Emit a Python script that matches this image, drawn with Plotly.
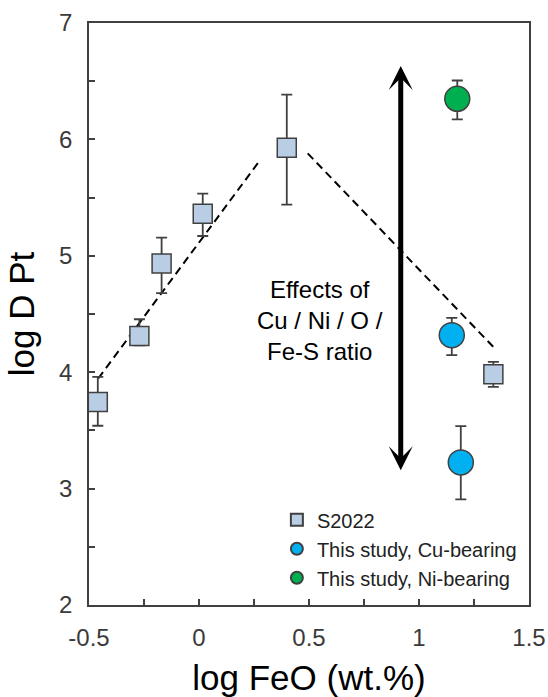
import plotly.graph_objects as go

# S2022 data
s_x = [-0.46, -0.271, -0.17, 0.017, 0.399, 1.338]
s_y = [3.745, 4.31, 4.933, 5.362, 5.929, 3.983]
s_err_plus = [0.215, 0.145, 0.223, 0.172, 0.455, 0.105]
s_err_minus = [0.205, 0.08, 0.253, 0.192, 0.489, 0.109]

# This study, Cu-bearing
cu_x = [1.149, 1.19]
cu_y = [4.318, 3.225]
cu_err_plus = [0.148, 0.311]
cu_err_minus = [0.172, 0.318]

# This study, Ni-bearing
ni_x = [1.174]
ni_y = [6.349]
ni_err_plus = [0.157]
ni_err_minus = [0.177]

# Trend lines (dashed)
trend1_x = [-0.458, 0.277]
trend1_y = [3.946, 5.82]
trend2_x = [0.494, 1.338]
trend2_y = [5.88, 4.217]

# Double arrow
arrow_x = 0.917
arrow_top = 6.63
arrow_bottom = 3.144

label_x = 0.55
label_y = 4.446
label_text = "Effects of<br>Cu / Ni / O /<br>Fe-S ratio"

x_tickvals = [-0.5, 0, 0.5, 1, 1.5]
x_ticktext = ["-0.5", "0", "0.5", "1", "1.5"]
y_tickvals = [2, 3, 4, 5, 6, 7]
y_ticktext = ["2", "3", "4", "5", "6", "7"]

x_range = [-0.5, 1.5]
y_range = [2, 7]

FONT = "Liberation Sans, Arial, sans-serif"
EDGE = "#404040"

fig = go.Figure()

for tx, ty in [(trend1_x, trend1_y), (trend2_x, trend2_y)]:
    fig.add_trace(go.Scatter(x=tx, y=ty, mode="lines",
                             line=dict(color="black", width=2, dash="8px,5px"),
                             showlegend=False, hoverinfo="skip"))

fig.add_trace(go.Scatter(
    x=s_x, y=s_y, mode="markers", name="S2022", legendgroup="a",
    marker=dict(symbol="square", size=19, color="#b9cde5",
                line=dict(color=EDGE, width=1.5)),
    error_y=dict(type="data", symmetric=False, array=s_err_plus,
                 arrayminus=s_err_minus, color=EDGE, thickness=1.8, width=5.5)))

fig.add_trace(go.Scatter(
    x=cu_x, y=cu_y, mode="markers", name="This study, Cu-bearing", legendgroup="b",
    marker=dict(symbol="circle", size=25, color="#00b0f0",
                line=dict(color=EDGE, width=1.5)),
    error_y=dict(type="data", symmetric=False, array=cu_err_plus,
                 arrayminus=cu_err_minus, color=EDGE, thickness=1.8, width=5.5)))

fig.add_trace(go.Scatter(
    x=ni_x, y=ni_y, mode="markers", name="This study, Ni-bearing", legendgroup="c",
    marker=dict(symbol="circle", size=25, color="#00b050",
                line=dict(color=EDGE, width=1.5)),
    error_y=dict(type="data", symmetric=False, array=ni_err_plus,
                 arrayminus=ni_err_minus, color=EDGE, thickness=1.8, width=5.5)))

fig.add_annotation(x=arrow_x, y=arrow_top, ax=arrow_x, ay=arrow_bottom,
                   xref="x", yref="y", axref="x", ayref="y", text="",
                   showarrow=True, arrowhead=3, startarrowhead=3,
                   arrowside="end+start", arrowwidth=5, arrowsize=0.8,
                   startarrowsize=0.8, arrowcolor="black", standoff=0,
                   startstandoff=0)

fig.add_annotation(x=label_x, y=label_y, xref="x", yref="y", text=label_text,
                   showarrow=False, font=dict(family=FONT, size=24, color="black"),
                   align="center")

axis_common = dict(showgrid=False, zeroline=False, showline=True, linecolor=EDGE,
                   linewidth=1.8, mirror=True, ticks="inside", ticklen=6,
                   tickwidth=1.5, tickcolor=EDGE, automargin=False,
                   tickfont=dict(family=FONT, size=24, color="#3a3a3a"))

fig.update_layout(
    width=548, height=697,
    margin=dict(l=89, r=19, t=23, b=92),
    paper_bgcolor="white", plot_bgcolor="white",
    xaxis=dict(range=x_range, tickvals=x_tickvals, ticktext=x_ticktext,
               minor=dict(dtick=0.25, tick0=-0.5, ticks="inside", ticklen=6, tickcolor=EDGE, tickwidth=1.5),
               title=dict(text="log FeO (wt.%)", font=dict(family=FONT, size=35, color="black"),
                          standoff=18),
               ticklabelstandoff=10, **axis_common),
    yaxis=dict(range=y_range, tickvals=y_tickvals, ticktext=y_ticktext,
               minor=dict(dtick=0.5, tick0=2, ticks="inside", ticklen=6, tickcolor=EDGE, tickwidth=1.5),
               title=dict(text="log D Pt", font=dict(family=FONT, size=35, color="black"),
                          standoff=14),
               ticklabelstandoff=10, **axis_common),
    legend=dict(x=0.427, y=0.18, xanchor="left", yanchor="top",
                bgcolor="rgba(0,0,0,0)", font=dict(family=FONT, size=20, color="#222"),
                itemsizing="constant", traceorder="grouped", tracegroupgap=0),
    showlegend=True,
)

fig.write_html("out.html", config={"displayModeBar": False},
               post_script="document.body.style.margin='0';document.body.style.overflow='hidden';")
